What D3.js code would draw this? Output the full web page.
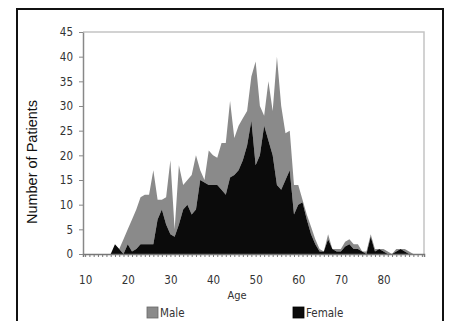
<!DOCTYPE html>
<html>
<head>
<meta charset="utf-8">
<script src="https://cdn.jsdelivr.net/npm/d3@7"></script>
<style>
  html, body { margin: 0; padding: 0; background: #fff; }
  svg { display: block; }
</style>
</head>
<body>
<div id="chart"></div>
<script>
// ages 10..89 (one category per year)
const ages = d3.range(10, 90);

const female = [
  0, 0, 0, 0, 0, 0, 0, 2, 1, 0,
  2, 0.5, 1, 2, 2, 2, 2, 7, 9, 6,
  4, 3.5, 6, 9, 10, 8, 9, 15, 14.5, 14,
  14, 14, 13, 12, 15.5, 16, 17, 19, 22, 27,
  18, 20, 26, 23, 20, 14, 13, 15, 17, 8,
  10, 10.5, 7, 4, 2, 0.5, 0.5, 3, 1, 0.5,
  0.5, 1.5, 2, 1, 1, 0.5, 0, 3.5, 0.5, 1,
  0.5, 0, 0, 0.5, 1, 0.5, 0, 0, 0, 0
];

const male = [
  0, 0, 0, 0, 0, 0, 0, 0, 0, 3,
  3, 6.5, 8, 9.5, 10, 10, 15, 4, 2, 5.5,
  15, 1.5, 12, 5, 5, 8, 11, 2, 0.5, 7,
  6, 5.5, 9.5, 10.5, 15.5, 7.5, 9, 8.5, 7, 9,
  21, 10, 2, 12, 9, 26, 17, 9.5, 8, 6,
  4, 0.5, 1, 1.5, 1, 0.5, 0, 1, 0, 0.5,
  0.5, 1, 1, 1, 1, 0, 0.5, 0.5, 0.5, 0,
  0.5, 0.5, 0, 0.5, 0, 0.5, 0.5, 0, 0, 0
];

const yTicks = [0, 5, 10, 15, 20, 25, 30, 35, 40, 45];
const xTickLabels = [10, 20, 30, 40, 50, 60, 70, 80];

const seriesNames = ["Male", "Female"];
const colors = { Male: "#8a8a8a", Female: "#0b0b0b" };

const W = 452, H = 321;
const plot = { left: 83, right: 424, top: 32, bottom: 254 };
const tickFont = "'Liberation Sans Narrow', 'DejaVu Sans Condensed', 'Open Sans', sans-serif";

const data = ages.map((a, i) => ({ age: a, Female: female[i], Male: male[i] }));

const x = d3.scaleLinear()
  .domain([9.5, 89.5])
  .range([plot.left, plot.right]);

const y = d3.scaleLinear()
  .domain([0, 45])
  .range([plot.bottom, plot.top]);

const svg = d3.select("#chart").append("svg")
  .attr("width", W)
  .attr("height", H);

svg.append("rect")
  .attr("width", W).attr("height", H)
  .attr("fill", "#fff");

// outer frame (bottom edge runs off the image)
svg.append("rect")
  .attr("x", 17).attr("y", 9)
  .attr("width", 426).attr("height", 340)
  .attr("fill", "none")
  .attr("stroke", "#111")
  .attr("stroke-width", 2);

// plot border: top + right
svg.append("path")
  .attr("d", `M${plot.left},${plot.top}H${plot.right}V${plot.bottom}`)
  .attr("fill", "none")
  .attr("stroke", "#c4c4c4")
  .attr("stroke-width", 1.5);

// stacked areas: female at the bottom, male on top
const layers = d3.stack().keys(["Female", "Male"])(data);

const area = d3.area()
  .x(d => x(d.data.age))
  .y0(d => y(d[0]))
  .y1(d => y(d[1]));

svg.append("g")
  .selectAll("path")
  .data(layers.slice().reverse())
  .join("path")
  .attr("d", area)
  .attr("fill", d => colors[d.key]);

// x axis
const xAxis = d3.axisBottom(x)
  .tickValues(ages)
  .tickSize(3)
  .tickPadding(19)
  .tickFormat(d => xTickLabels.includes(d) ? d : "");

const gx = svg.append("g")
  .attr("transform", `translate(0,${plot.bottom})`)
  .call(xAxis);
gx.select(".domain").attr("stroke", "#777").attr("stroke-width", 1.5);
gx.selectAll(".tick line").attr("stroke", "#777");
gx.selectAll(".tick text")
  .attr("fill", "#333")
  .style("font-family", tickFont)
  .style("font-size", "11.5px");

// y axis
const yAxis = d3.axisLeft(y)
  .tickValues(yTicks)
  .tickSize(4)
  .tickPadding(6)
  .tickSizeOuter(0);

const gy = svg.append("g")
  .attr("transform", `translate(${plot.left},0)`)
  .call(yAxis);
gy.select(".domain").attr("stroke", "#888").attr("stroke-width", 1.5);
gy.selectAll(".tick line").attr("stroke", "#888");
gy.selectAll(".tick text")
  .attr("fill", "#333")
  .style("font-family", tickFont)
  .style("font-size", "11.5px");

// axis titles
svg.append("text")
  .attr("transform", `translate(37,162) rotate(-90)`)
  .attr("text-anchor", "middle")
  .style("font-family", "'Liberation Sans', Arial, sans-serif")
  .style("font-size", "14.5px")
  .attr("fill", "#111")
  .text("Number of Patients");

svg.append("text")
  .attr("x", 237).attr("y", 299)
  .attr("text-anchor", "middle")
  .style("font-family", tickFont)
  .style("font-size", "11px")
  .attr("fill", "#333")
  .text("Age");

// legend
const legendPos = { Male: 147, Female: 293 };
const legend = svg.append("g")
  .selectAll("g")
  .data(seriesNames)
  .join("g")
  .attr("transform", d => `translate(${legendPos[d]},307)`);

legend.append("rect")
  .attr("width", 11).attr("height", 11)
  .attr("fill", d => colors[d])
  .attr("stroke", d => d === "Male" ? "#666" : "#000")
  .attr("stroke-width", 0.8);

legend.append("text")
  .attr("x", 13).attr("y", 10)
  .style("font-family", tickFont)
  .style("font-size", "11.5px")
  .attr("fill", "#333")
  .text(d => d);
</script>
</body>
</html>
